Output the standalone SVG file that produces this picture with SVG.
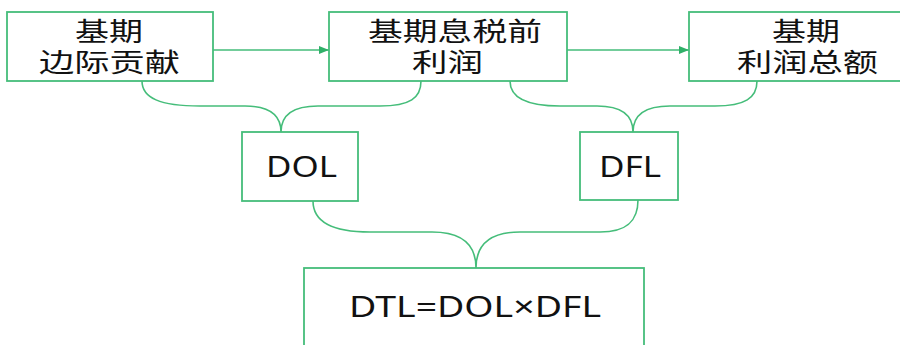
<svg xmlns="http://www.w3.org/2000/svg" width="900" height="345" viewBox="0 0 900 345">
<style>
.box{fill:#fff;stroke:#45bd7a;stroke-width:1.8}
.con{fill:none;stroke:#45bd7a;stroke-width:1.6}
.cjk{font-family:"Noto Sans CJK SC","Noto Sans",sans-serif;font-size:26px;fill:#111}
.lat{font-family:"Noto Sans","Noto Sans CJK SC",sans-serif;font-size:29px;fill:#111}
</style>
<defs>
<marker id="arr" markerWidth="10" markerHeight="8" refX="10" refY="4" orient="auto" markerUnits="userSpaceOnUse">
<path d="M0,0 L10,4 L0,8 Z" fill="#2fb068"/>
</marker>
</defs>
<rect width="900" height="345" fill="#fff"/>
<g id="connectors">
<line class="con" x1="213" y1="50" x2="329" y2="50" marker-end="url(#arr)"/>
<line class="con" x1="567" y1="50" x2="689" y2="50" marker-end="url(#arr)"/>
<path class="con" d="M142,81 C142,98 160,106 200,106 L245,106 C270,106 281,115 281,132 C281,115 292,106 318,106 L380,106 C410,106 421,98 421,81"/>
<path class="con" d="M510,81 C510,98 528,106 560,106 L597,106 C622,106 633,115 633,132 C633,115 644,106 670,106 L715,106 C745,106 757,98 757,81"/>
<path class="con" d="M313,201 C313,220 330,232 370,232 L432,232 C462,232 476,245 476,268 C476,245 490,232 520,232 L600,232 C628,232 638,220 638,200"/>
</g>
<g id="node-contribution">
<rect class="box" x="7" y="12" width="206" height="69"/>
<text class="cjk" x="75" y="41" textLength="68" lengthAdjust="spacingAndGlyphs">基期</text>
<text class="cjk" x="39" y="72" textLength="141" lengthAdjust="spacingAndGlyphs">边际贡献</text>
</g>
<g id="node-ebit">
<rect class="box" x="329" y="12" width="238" height="69"/>
<text class="cjk" x="368" y="41" textLength="174" lengthAdjust="spacingAndGlyphs">基期息税前</text>
<text class="cjk" x="412" y="72" textLength="71" lengthAdjust="spacingAndGlyphs">利润</text>
</g>
<g id="node-profit">
<rect class="box" x="689" y="12" width="236" height="69"/>
<text class="cjk" x="772" y="41" textLength="68" lengthAdjust="spacingAndGlyphs">基期</text>
<text class="cjk" x="737" y="72" textLength="141" lengthAdjust="spacingAndGlyphs">利润总额</text>
</g>
<g id="node-dol">
<rect class="box" x="242" y="132" width="116" height="69"/>
<text class="lat" x="266" y="177" textLength="71" lengthAdjust="spacingAndGlyphs">DOL</text>
</g>
<g id="node-dfl">
<rect class="box" x="580" y="132" width="98" height="68"/>
<text class="lat" x="599" y="177" textLength="62" lengthAdjust="spacingAndGlyphs">DFL</text>
</g>
<g id="node-dtl">
<rect class="box" x="304" y="268" width="340" height="100"/>
<text class="lat" x="349" y="317" textLength="252" lengthAdjust="spacingAndGlyphs">DTL=DOL×DFL</text>
</g>
</svg>
